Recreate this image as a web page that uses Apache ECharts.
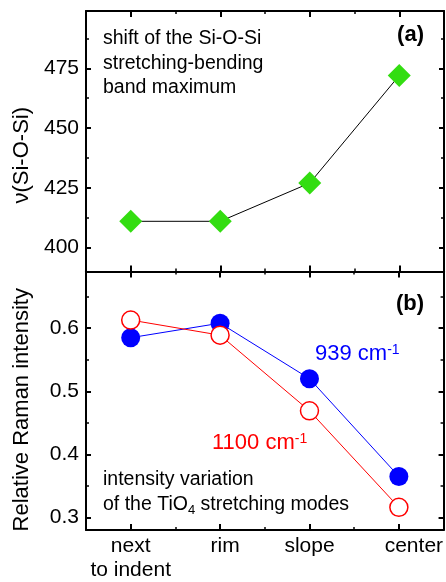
<!DOCTYPE html>
<html>
<head>
<meta charset="utf-8">
<script src="https://cdn.jsdelivr.net/npm/echarts@6/dist/echarts.min.js"></script>
<style>
  html, body { margin: 0; padding: 0; background: #fff; }
  #chart { width: 446px; height: 582px; }
</style>
</head>
<body>
<div id="chart"></div>
<script>
// Measurement positions across the indent
const categories = ['next\nto indent', 'rim', 'slope', 'center'];

// (a) Si-O-Si stretching-bending band maximum, cm^-1
const siOSiShift = [411, 411, 427, 472];

// (b) relative Raman intensity of the TiO4 stretching modes
const raman939 = [0.585, 0.608, 0.520, 0.365];
const raman1100 = [0.613, 0.589, 0.469, 0.316];

// Tick values
const shiftTicks = [400, 425, 450, 475];
const shiftMinorTicks = [412.5, 437.5, 462.5, 487.5];
const ramanTicks = [0.3, 0.4, 0.5, 0.6];
const ramanMinorTicks = [0.35, 0.45, 0.55, 0.65];

const FONT = 'Liberation Sans, Arial, sans-serif';
const BLACK = '#000';

function catAxis(gridIndex, position, major, withLabels) {
  const data = categories.map((c, i) => {
    // the last two labels sit a little to the right of their tick
    const pad = [0, 10, 0, 30][i];
    return { value: c, textStyle: { padding: [0, 0, 0, pad] } };
  });
  return {
    type: 'category',
    gridIndex: gridIndex,
    position: position,
    data: data,
    boundaryGap: true,
    axisLine: { show: major, onZero: false, lineStyle: { color: BLACK, width: 2 } },
    axisTick: {
      show: true, inside: true, interval: 0,
      alignWithLabel: major,
      length: major ? 6 : 3,
      lineStyle: { color: BLACK, width: major ? 2 : 1.5 }
    },
    axisLabel: {
      show: withLabels, interval: 0, margin: 4,
      fontFamily: FONT, fontSize: 21, color: BLACK, lineHeight: 24
    },
    splitLine: { show: false }
  };
}

function valAxis(gridIndex, position, min, max, ticks, major, opts) {
  const ax = {
    type: 'value',
    gridIndex: gridIndex,
    position: position,
    min: min, max: max,
    axisLine: { show: major, onZero: false, lineStyle: { color: BLACK, width: 2 } },
    axisTick: {
      show: true, inside: true, customValues: ticks,
      length: major ? 5 : 3,
      lineStyle: { color: BLACK, width: major ? 2 : 1.5 }
    },
    axisLabel: {
      show: false, customValues: ticks, margin: 7,
      fontFamily: FONT, fontSize: 21, color: BLACK
    },
    splitLine: { show: false }
  };
  return Object.assign(ax, opts || {});
}

const xAxes = [
  catAxis(0, 'bottom', true, false),
  catAxis(0, 'bottom', false, false),
  catAxis(0, 'top', true, false),
  catAxis(0, 'top', false, false),
  catAxis(1, 'bottom', true, true),
  catAxis(1, 'bottom', false, false),
  catAxis(1, 'top', true, false),
  catAxis(1, 'top', false, false)
];

const yAxes = [
  valAxis(0, 'left', 390, 499, shiftTicks, true, {
    name: 'ν(Si-O-Si)', nameLocation: 'middle', nameGap: 47,
    nameTextStyle: { fontFamily: FONT, fontSize: 22, color: BLACK, padding: [0, 28, 0, 0] }
  }),
  valAxis(0, 'left', 390, 499, shiftMinorTicks, false),
  valAxis(0, 'right', 390, 499, shiftTicks, true),
  valAxis(0, 'right', 390, 499, shiftMinorTicks, false),
  valAxis(1, 'left', 0.28, 0.69, ramanTicks, true, {
    name: 'Relative Raman intensity', nameLocation: 'middle', nameGap: 53,
    nameTextStyle: { fontFamily: FONT, fontSize: 22, color: BLACK, padding: [0, 18, 0, 0] }
  }),
  valAxis(1, 'left', 0.28, 0.69, ramanMinorTicks, false),
  valAxis(1, 'right', 0.28, 0.69, ramanTicks, true),
  valAxis(1, 'right', 0.28, 0.69, ramanMinorTicks, false)
];
yAxes[0].axisLabel.show = true;
yAxes[4].axisLabel.show = true;
yAxes[4].axisLabel.formatter = v => v.toFixed(1);

const option = {
  animation: false,
  backgroundColor: '#fff',
  grid: [
    { left: 86, top: 11, width: 358, height: 260.5 },
    { left: 86, top: 271.5, width: 358, height: 260 }
  ],
  xAxis: xAxes,
  yAxis: yAxes,
  series: [
    {
      name: 'Si-O-Si',
      type: 'line',
      xAxisIndex: 0, yAxisIndex: 0,
      data: siOSiShift,
      symbol: 'diamond', symbolSize: 23,
      itemStyle: { color: '#33dd11' },
      lineStyle: { color: BLACK, width: 1 }
    },
    {
      name: '939 cm-1',
      type: 'line',
      xAxisIndex: 4, yAxisIndex: 4,
      data: raman939,
      symbol: 'circle', symbolSize: 19,
      itemStyle: { color: '#0000ff' },
      lineStyle: { color: '#0000ff', width: 1 }
    },
    {
      name: '1100 cm-1',
      type: 'line',
      xAxisIndex: 4, yAxisIndex: 4,
      data: raman1100,
      symbol: 'circle', symbolSize: 18,
      itemStyle: { color: '#fff', borderColor: '#ff0000', borderWidth: 1.5 },
      lineStyle: { color: '#ff0000', width: 1 }
    }
  ],
  graphic: [
    {
      type: 'text', left: 103, top: 26.5,
      style: {
        text: 'shift of the Si-O-Si\nstretching-bending\nband maximum',
        font: '19.5px ' + FONT, fill: BLACK, lineHeight: 24.5
      }
    },
    {
      type: 'text', x: 424, y: 35,
      style: { text: '(a)', font: 'bold 22px ' + FONT, fill: BLACK, align: 'right', verticalAlign: 'middle' }
    },
    {
      type: 'text', x: 424, y: 304,
      style: { text: '(b)', font: 'bold 22px ' + FONT, fill: BLACK, align: 'right', verticalAlign: 'middle' }
    },
    {
      type: 'text', x: 315, y: 343,
      style: {
        text: '{m|939 cm}{s|-1}',
        rich: {
          m: { fontFamily: FONT, fontSize: 22, fill: '#0000ff', color: '#0000ff', lineHeight: 22, verticalAlign: 'bottom' },
          s: { fontFamily: FONT, fontSize: 14, fill: '#0000ff', color: '#0000ff', lineHeight: 22, verticalAlign: 'top' }
        }
      }
    },
    {
      type: 'text', x: 212, y: 432,
      style: {
        text: '{m|1100 cm}{s|-1}',
        rich: {
          m: { fontFamily: FONT, fontSize: 22, fill: '#ff0000', color: '#ff0000', lineHeight: 22, verticalAlign: 'bottom' },
          s: { fontFamily: FONT, fontSize: 14, fill: '#ff0000', color: '#ff0000', lineHeight: 22, verticalAlign: 'top' }
        }
      }
    },
    {
      type: 'text', x: 103, y: 467.5,
      style: {
        text: '{m|intensity variation}\n{m|of the TiO}{b|4}{m| stretching modes}',
        rich: {
          m: { fontFamily: FONT, fontSize: 19.5, color: BLACK, lineHeight: 24.5 },
          b: { fontFamily: FONT, fontSize: 13, color: BLACK, lineHeight: 24.5, verticalAlign: 'bottom' }
        }
      }
    }
  ]
};

const chart = echarts.init(document.getElementById('chart'), null, { renderer: 'canvas' });
chart.setOption(option);
</script>
</body>
</html>
